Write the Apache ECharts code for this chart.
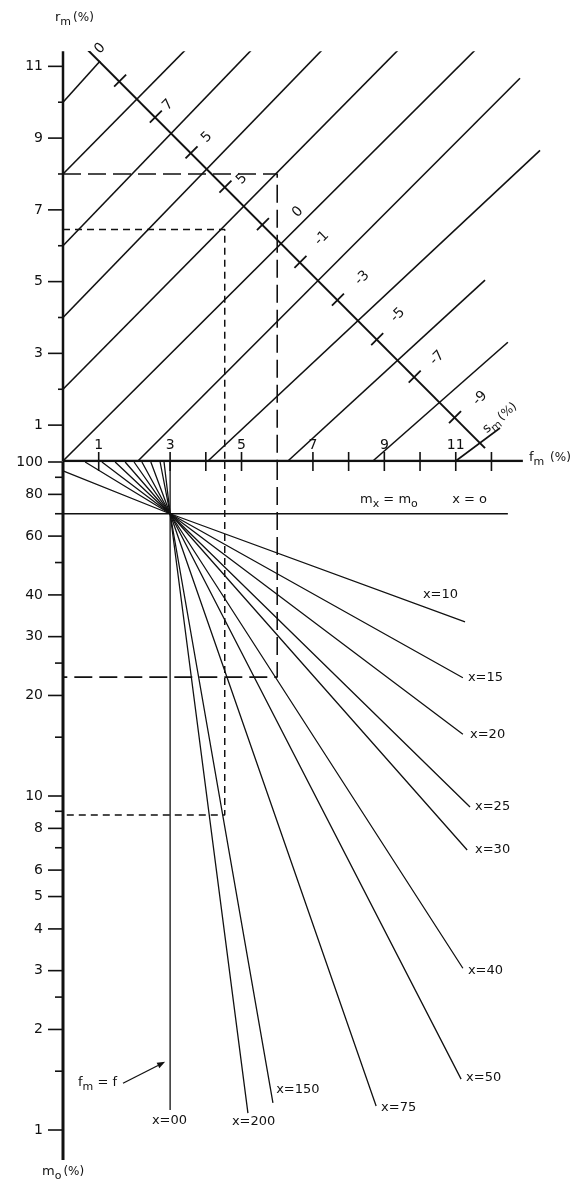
<!DOCTYPE html>
<html>
<head>
<meta charset="utf-8">
<script src="https://cdn.jsdelivr.net/npm/echarts@6/dist/echarts.min.js"></script>
<style>
    html, body { margin: 0; padding: 0; background: #fff; }
    #chart { width: 574px; height: 1185px; }
</style>
</head>
<body>
<div id="chart"></div>
<script>
// ---- axis ticks / labels ----
const fmTicks = [1, 3, 4, 5, 7, 8, 9, 10, 11, 12];
const fmLabels = [1, 3, 5, 7, 9, 11];
const rmLabels = [1, 3, 5, 7, 9, 11];
const rmMinor = [2, 4, 6, 8, 10];
const m0Labels = [100, 80, 60, 40, 30, 20, 10, 8, 6, 5, 4, 3, 2, 1];
const m0Minor = [90, 70, 50, 25, 15, 9, 7, 2.5, 1.5];

// ---- top panel: r_m lines, [f start, r start, f end, r end] ----
const diagLines = [
    [0, 10, 1.04, 11.15],
    [0, 8, 3.5, 11.53],
    [0, 6, 5.32, 11.5],
    [0, 4, 7.25, 11.45],
    [0, 2, 9.52, 11.59],
    [0, 0, 11.62, 11.53],
    [2.1, 0, 12.8, 10.67],
    [4.06, 0, 13.36, 8.66],
    [6.3, 0, 11.82, 5.04],
    [8.68, 0, 12.46, 3.31]
];

// s_m scale line, its ticks and labels
const smLine = [[0.42, 11.73], [11.82, 0.36]];
const smArm = [[11, 0], [12.24, 0.92]];
const smTicks = [[1.6, 10.6], [2.6, 9.6], [3.6, 8.6], [4.55, 7.65], [5.6, 6.6],
                 [6.65, 5.55], [7.7, 4.5], [8.8, 3.4], [9.85, 2.35], [10.98, 1.22]];
const smLabelText = ['0', '7', '5', '5', '0', '-1', '-3', '-5', '-7', '-9'];
const smLabelPos = [[1.04, 11.5], [2.94, 9.92], [4.03, 9.02], [5.01, 7.86], [6.58, 6.94],
                    [7.25, 6.21], [8.38, 5.1], [9.38, 4.07], [10.48, 2.87], [11.68, 1.75]];

// worked examples (dashed)
const longDashTop = [[0, 8], [6, 8], [6, 0]];
const longDashBottom = [[6, 100], [6, 22.7], [0, 22.7]];
const shortDashTop = [[0, 6.45], [4.53, 6.45], [4.53, 0]];
const shortDashBottom = [[4.53, 100], [4.53, 8.77], [0, 8.77]];

// ---- bottom panel: x fan through the pivot ----
const pivot = [3, 70];
const fanNames = ['x=10', 'x=15', 'x=20', 'x=25', 'x=30', 'x=40', 'x=50', 'x=75', 'x=150', 'x=200', 'x=00'];
const fanStart = [[0, 94], [0.62, 100], [1.09, 100], [1.46, 100], [1.74, 100], [1.99, 100],
                  [2.21, 100], [2.46, 100], [2.72, 100], [2.83, 100], [3, 100]];
const fanEnd = [[11.26, 33.2], [11.2, 22.6], [11.2, 15.3], [11.4, 9.27], [11.32, 6.89], [11.2, 3.05],
                [11.15, 1.42], [8.77, 1.18], [5.88, 1.205], [5.18, 1.124], [3, 1.148]];
const fanLabelPos = [[10.08, 40], [11.34, 22.6], [11.4, 15.3], [11.54, 9.27], [11.54, 6.89], [11.34, 3.01],
                     [11.29, 1.43], [8.91, 1.17], [5.97, 1.318], [4.73, 1.056], [2.49, 1.064]];
const zeroLine = [[0, 70], [12.46, 70]];
const fmEqualF = [[0.42, 1.39], [1.68, 1.38], [2.86, 1.6]];   // label pos, arrow from, arrow to
const mxLabelPos = [[8.32, 77], [10.9, 77]];

const FONT = '"DejaVu Sans", "Liberation Sans", sans-serif';
const INK = '#111';

let chart = echarts.init(document.getElementById('chart'));

function seg(grid, points, width, dash) {
    return {
        type: 'line', xAxisIndex: grid, yAxisIndex: grid,
        data: points, symbol: 'none', silent: true, animation: false, z: 3,
        lineStyle: { color: INK, width: width, type: dash || 'solid' }
    };
}

function custom(grid, points, render) {
    return {
        type: 'custom', coordinateSystem: 'cartesian2d', xAxisIndex: grid, yAxisIndex: grid,
        data: points, silent: true, animation: false, z: 4, clip: false,
        renderItem: render
    };
}

function txt(x, y, text, opts) {
    opts = opts || {};
    return {
        type: 'text', x: x, y: y, rotation: opts.rotation || 0,
        style: {
            text: text, fill: INK, fontFamily: FONT, fontSize: opts.size || 13,
            align: opts.align || 'center', verticalAlign: 'middle', rich: opts.rich
        }
    };
}

const subRich = {
    b: { fontFamily: FONT, fontSize: 13, fill: INK },
    s: { fontFamily: FONT, fontSize: 11, fill: INK, padding: [9, 0, 0, 0] },
    p: { fontFamily: FONT, fontSize: 12, fill: INK, padding: [0, 0, 0, 2] }
};

// left axis ticks (both panels)
function leftTicks(grid, values, len, label) {
    return custom(grid, values.map(v => [0, v]), function (params, api) {
        let v = values[params.dataIndex];
        let p = api.coord([0, v]);
        let kids = [{
            type: 'line', shape: { x1: p[0] - len, y1: p[1], x2: p[0], y2: p[1] },
            style: { stroke: INK, lineWidth: 1.6 }
        }];
        if (label) kids.push(txt(p[0] - 20, p[1], String(v), { align: 'right', size: 14 }));
        return { type: 'group', children: kids };
    });
}

let series = [];

// axes lines
series.push(seg(0, [[0, 0], [0, 11.42]], 2.5));
series.push(seg(1, [[0, 0.8132], [0, 100]], 3));
series.push(seg(0, [[0, 0], [12.88, 0]], 2.5));

series.push(leftTicks(0, rmLabels, 15, true));
series.push(leftTicks(0, rmMinor, 5, false));
series.push(leftTicks(1, m0Labels, 15, true));
series.push(leftTicks(1, m0Minor, 8, false));

// f_m axis ticks + labels
series.push(custom(0, fmTicks.map(v => [v, 0]), function (params, api) {
    let v = fmTicks[params.dataIndex];
    let p = api.coord([v, 0]);
    let kids = [{
        type: 'line', shape: { x1: p[0], y1: p[1] - 9, x2: p[0], y2: p[1] + 10 },
        style: { stroke: INK, lineWidth: 1.6 }
    }];
    if (fmLabels.indexOf(v) >= 0) kids.push(txt(p[0], p[1] - 16, String(v), { size: 14 }));
    return { type: 'group', children: kids };
}));

// r_m diagonal lines
diagLines.forEach(function (d) {
    series.push(seg(0, [[d[0], d[1]], [d[2], d[3]]], 1.6));
});

// s_m line
series.push(seg(0, smLine, 2));
series.push(seg(0, smArm, 1.6));
series.push(custom(0, smTicks, function (params, api) {
    let p = api.coord(smTicks[params.dataIndex]);
    return {
        type: 'line', shape: { x1: p[0] - 6, y1: p[1] + 6, x2: p[0] + 6, y2: p[1] - 6 },
        style: { stroke: INK, lineWidth: 1.8 }
    };
}));
series.push(custom(0, smLabelPos, function (params, api) {
    let p = api.coord(smLabelPos[params.dataIndex]);
    return txt(p[0], p[1], smLabelText[params.dataIndex], { rotation: Math.PI / 4, size: 14 });
}));
series.push(custom(0, [[12.24, 1.2]], function (params, api) {
    let p = api.coord([12.24, 1.2]);
    return txt(p[0], p[1], '{b|s}{s|m}{p|(%)}', { rotation: Math.PI / 4.5, rich: subRich });
}));

// dashed examples
series.push(seg(0, longDashTop, 1.6, [18, 7]));
series.push(seg(1, longDashBottom, 1.6, [18, 7]));
series.push(seg(0, shortDashTop, 1.5, [7, 5]));
series.push(seg(1, shortDashBottom, 1.5, [7, 5]));

// fan of x lines through the pivot
series.push(seg(1, zeroLine, 1.6));
fanStart.forEach(function (s, i) {
    series.push(seg(1, [s, pivot, fanEnd[i]], 1.3));
});
series.push(custom(1, fanLabelPos, function (params, api) {
    let p = api.coord(fanLabelPos[params.dataIndex]);
    return txt(p[0], p[1], fanNames[params.dataIndex], { align: 'left', size: 13 });
}));
series.push(custom(1, mxLabelPos, function (params, api) {
    let p = api.coord(mxLabelPos[params.dataIndex]);
    let t = params.dataIndex === 0 ? '{b|m}{s|x}{b| = m}{s|o}' : 'x = o';
    return txt(p[0], p[1], t, { align: 'left', size: 13, rich: subRich });
}));

// f_m = f note with arrow
series.push(custom(1, [fmEqualF[0]], function (params, api) {
    let lp = api.coord(fmEqualF[0]);
    let a = api.coord(fmEqualF[1]);
    let b = api.coord(fmEqualF[2]);
    let ang = Math.atan2(b[1] - a[1], b[0] - a[0]);
    let h = 8, w = 3;
    let bx = b[0] - h * Math.cos(ang), by = b[1] - h * Math.sin(ang);
    return {
        type: 'group', children: [
            txt(lp[0], lp[1], '{b|f}{s|m}{b| = f}', { align: 'left', rich: subRich }),
            { type: 'line', shape: { x1: a[0], y1: a[1], x2: bx, y2: by }, style: { stroke: INK, lineWidth: 1.3 } },
            { type: 'polygon', shape: { points: [[b[0], b[1]],
                [bx - w * Math.sin(ang), by + w * Math.cos(ang)],
                [bx + w * Math.sin(ang), by - w * Math.cos(ang)]] }, style: { fill: INK } }
        ]
    };
}));

let option = {
    backgroundColor: '#fff',
    animation: false,
    grid: [
        { left: 63, top: 52, width: 507, height: 409 },
        { left: 63, top: 462, width: 507, height: 698 }
    ],
    xAxis: [
        { gridIndex: 0, type: 'value', min: 0, max: 14.2, show: false },
        { gridIndex: 1, type: 'value', min: 0, max: 14.2, show: false }
    ],
    yAxis: [
        { gridIndex: 0, type: 'value', min: 0, max: 11.4, show: false },
        { gridIndex: 1, type: 'log', min: 0.8132, max: 100, show: false }
    ],
    graphic: [
        { type: 'text', left: 55, top: 11, style: { text: '{b|r}{s|m}{p|(%)}', rich: subRich } },
        { type: 'text', left: 529, top: 451, style: { text: '{b|f}{s|m}{p| (%)}', rich: subRich } },
        { type: 'text', left: 42, top: 1165, style: { text: '{b|m}{s|o}{p|(%)}', rich: subRich } }
    ],
    series: series
};

chart.setOption(option);
</script>
</body>
</html>
